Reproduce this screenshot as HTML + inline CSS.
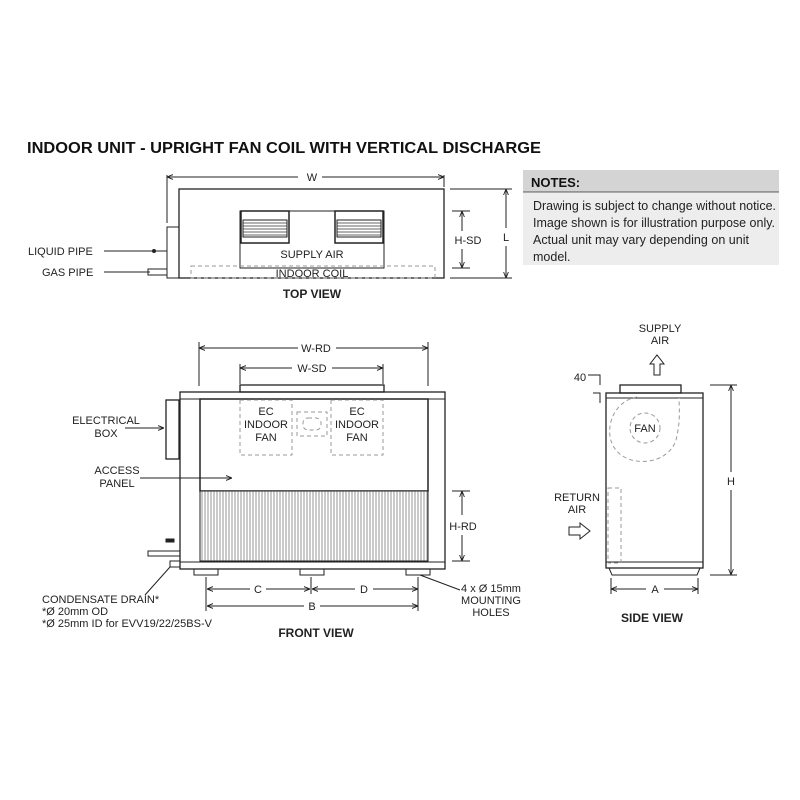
<!DOCTYPE html>
<html><head><meta charset="utf-8"><style>
html,body{margin:0;padding:0;background:#fff}
svg{display:block}
text{font-family:"Liberation Sans",Arial,sans-serif;fill:#222}
</style></head><body>
<svg width="800" height="800" viewBox="0 0 800 800" xmlns="http://www.w3.org/2000/svg">
<defs>
<marker id="a" viewBox="0 0 10 10" refX="10" refY="5" markerWidth="6" markerHeight="6" orient="auto-start-reverse"><path d="M0,1 L10,5 L0,9" fill="none" stroke="#222" stroke-width="1.5"/></marker>
<pattern id="g" width="3" height="10" patternUnits="userSpaceOnUse"><rect width="3" height="10" fill="#fff"/><line x1="1" y1="0" x2="1" y2="10" stroke="#888" stroke-width="0.9"/></pattern>
<pattern id="l" width="10" height="3" patternUnits="userSpaceOnUse"><rect width="10" height="3" fill="#fff"/><line x1="0" y1="1" x2="10" y2="1" stroke="#666" stroke-width="1"/></pattern>
</defs>

<text x="27" y="153" font-size="16" font-weight="bold" textLength="514" lengthAdjust="spacingAndGlyphs" style="fill:#111">INDOOR UNIT - UPRIGHT FAN COIL WITH VERTICAL DISCHARGE</text>

<!-- NOTES -->
<rect x="523" y="170" width="256" height="22" fill="#d4d4d4"/>
<line x1="523" y1="192" x2="779" y2="192" stroke="#555" stroke-width="1"/>
<rect x="523" y="193" width="256" height="72" fill="#ededed"/>
<text x="531" y="187" font-size="13" font-weight="bold" style="fill:#111">NOTES:</text>
<g font-size="12.5" style="fill:#333">
<text x="533" y="210" textLength="243" lengthAdjust="spacingAndGlyphs">Drawing is subject to change without notice.</text>
<text x="533" y="227" textLength="242" lengthAdjust="spacingAndGlyphs">Image shown is for illustration purpose only.</text>
<text x="533" y="244" textLength="216" lengthAdjust="spacingAndGlyphs">Actual unit may vary depending on unit</text>
<text x="533" y="261">model.</text>
</g>

<g stroke="#222" fill="none" stroke-width="1">
<!-- TOP VIEW -->
<rect x="179" y="189" width="265" height="89" stroke-width="1.3"/>
<line x1="167" y1="175" x2="167" y2="223"/>
<line x1="444" y1="175" x2="444" y2="187"/>
<line x1="167" y1="177" x2="298" y2="177" marker-start="url(#a)"/>
<line x1="322" y1="177" x2="444" y2="177" marker-end="url(#a)"/>
<path d="M179,227 H167 V278 H179"/>
<line x1="104" y1="251" x2="167" y2="251"/>
<circle cx="154" cy="251" r="1.5" fill="#222"/>
<line x1="104" y1="272" x2="150" y2="272"/>
<rect x="148" y="269" width="19" height="6"/>
<rect x="240" y="211" width="144" height="57"/>
<rect x="241" y="211" width="48" height="32" stroke-width="1.5"/>
<rect x="335" y="211" width="48" height="32" stroke-width="1.5"/>
<rect x="243" y="220" width="44" height="17" fill="url(#l)"/>
<rect x="337" y="220" width="44" height="17" fill="url(#l)"/>
<rect x="191" y="266" width="244" height="12" stroke="#999" stroke-dasharray="4,3"/>
<line x1="452" y1="211" x2="470" y2="211"/>
<line x1="452" y1="268" x2="470" y2="268"/>
<line x1="462" y1="211" x2="462" y2="231" marker-start="url(#a)"/>
<line x1="462" y1="249" x2="462" y2="268" marker-end="url(#a)"/>
<line x1="450" y1="189" x2="512" y2="189"/>
<line x1="450" y1="278" x2="512" y2="278"/>
<line x1="506" y1="189" x2="506" y2="228" marker-start="url(#a)"/>
<line x1="506" y1="246" x2="506" y2="278" marker-end="url(#a)"/>

<!-- FRONT VIEW -->
<rect x="180" y="392" width="265" height="177" stroke-width="1.3"/>
<line x1="180" y1="399" x2="445" y2="399"/>
<line x1="180" y1="562" x2="445" y2="562"/>
<rect x="200" y="399" width="228" height="92" stroke-width="1.5"/>
<rect x="200" y="491" width="228" height="70" fill="url(#g)"/>
<rect x="240" y="385" width="144" height="7" stroke-width="1.3"/>
<line x1="199" y1="342" x2="199" y2="386"/>
<line x1="428" y1="342" x2="428" y2="386"/>
<line x1="199" y1="348" x2="298" y2="348" marker-start="url(#a)"/>
<line x1="336" y1="348" x2="428" y2="348" marker-end="url(#a)"/>
<line x1="240" y1="364" x2="240" y2="384"/>
<line x1="383" y1="364" x2="383" y2="384"/>
<line x1="240" y1="368" x2="292" y2="368" marker-start="url(#a)"/>
<line x1="332" y1="368" x2="383" y2="368" marker-end="url(#a)"/>
<rect x="166" y="400" width="13" height="59" stroke-width="1.3"/>
<g stroke="#999" stroke-dasharray="4,3">
<rect x="240" y="400" width="52" height="55"/>
<rect x="331" y="400" width="52" height="55"/>
<rect x="297" y="412" width="30" height="24"/>
<rect x="303" y="418" width="18" height="12" rx="5"/>
</g>
<rect x="194" y="569" width="24" height="6"/>
<rect x="300" y="569" width="24" height="6"/>
<rect x="406" y="569" width="24" height="6"/>
<line x1="206" y1="577" x2="206" y2="611"/>
<line x1="311" y1="577" x2="311" y2="594"/>
<line x1="418" y1="577" x2="418" y2="611"/>
<line x1="207" y1="589" x2="250" y2="589" marker-start="url(#a)"/>
<line x1="266" y1="589" x2="310" y2="589" marker-end="url(#a)"/>
<line x1="312" y1="589" x2="355" y2="589" marker-start="url(#a)"/>
<line x1="373" y1="589" x2="418" y2="589" marker-end="url(#a)"/>
<line x1="207" y1="606" x2="304" y2="606" marker-start="url(#a)"/>
<line x1="320" y1="606" x2="418" y2="606" marker-end="url(#a)"/>
<line x1="452" y1="491" x2="470" y2="491"/>
<line x1="452" y1="561" x2="470" y2="561"/>
<line x1="462" y1="491" x2="462" y2="515" marker-start="url(#a)"/>
<line x1="462" y1="535" x2="462" y2="561" marker-end="url(#a)"/>
<rect x="148" y="551" width="32" height="5"/>
<rect x="166" y="539" width="8" height="3" fill="#222"/>
<rect x="170" y="561" width="10" height="6"/>
<path d="M145,595 L170,567"/>
<path d="M420,575 L460,590"/>
<line x1="125" y1="428" x2="164" y2="428" marker-end="url(#a)"/>
<line x1="140" y1="478" x2="232" y2="478" marker-end="url(#a)"/>

<!-- SIDE VIEW -->
<rect x="606" y="393" width="97" height="175" stroke-width="1.3"/>
<line x1="606" y1="398" x2="703" y2="398"/>
<line x1="606" y1="562" x2="703" y2="562"/>
<rect x="620" y="385" width="61" height="8" stroke-width="1.3"/>
<path d="M609,568 H700 L697,575 H612 Z"/>
<g stroke="#999" stroke-dasharray="4,3">
<path d="M637,397 C610,402 603,435 616,450 C630,468 668,465 676,440 C681,420 679,405 679,398"/>
<circle cx="645" cy="428" r="15"/>
<rect x="608" y="488" width="13" height="75"/>
</g>
<path d="M588,375 H600 V385"/>
<path d="M593,393 H600 V403"/>
<line x1="710" y1="385" x2="737" y2="385"/>
<line x1="710" y1="575" x2="737" y2="575"/>
<line x1="731" y1="385" x2="731" y2="472" marker-start="url(#a)"/>
<line x1="731" y1="490" x2="731" y2="575" marker-end="url(#a)"/>
<line x1="611" y1="578" x2="611" y2="594"/>
<line x1="698" y1="578" x2="698" y2="594"/>
<line x1="611" y1="589" x2="646" y2="589" marker-start="url(#a)"/>
<line x1="664" y1="589" x2="698" y2="589" marker-end="url(#a)"/>
<path d="M654,375 V364 H650 L657,355 L664,364 H660 V375 Z"/>
<path d="M569,527 H580 V523 L590,531 L580,539 V535 H569 Z"/>
</g>

<g font-size="11">
<text x="312" y="181" text-anchor="middle">W</text>
<text x="28" y="255">LIQUID PIPE</text>
<text x="42" y="276">GAS PIPE</text>
<text x="312" y="258" text-anchor="middle">SUPPLY AIR</text>
<text x="312" y="277" text-anchor="middle">INDOOR COIL</text>
<text x="468" y="244" text-anchor="middle">H-SD</text>
<text x="506" y="241" text-anchor="middle">L</text>
<text x="312" y="298" text-anchor="middle" font-weight="bold" font-size="12">TOP VIEW</text>

<text x="316" y="352" text-anchor="middle">W-RD</text>
<text x="312" y="372" text-anchor="middle">W-SD</text>
<text x="106" y="424" text-anchor="middle">ELECTRICAL</text>
<text x="106" y="437" text-anchor="middle">BOX</text>
<text x="117" y="474" text-anchor="middle">ACCESS</text>
<text x="117" y="487" text-anchor="middle">PANEL</text>
<text x="266" y="415" text-anchor="middle">EC</text>
<text x="266" y="428" text-anchor="middle">INDOOR</text>
<text x="266" y="441" text-anchor="middle">FAN</text>
<text x="357" y="415" text-anchor="middle">EC</text>
<text x="357" y="428" text-anchor="middle">INDOOR</text>
<text x="357" y="441" text-anchor="middle">FAN</text>
<text x="463" y="530" text-anchor="middle">H-RD</text>
<text x="258" y="593" text-anchor="middle">C</text>
<text x="364" y="593" text-anchor="middle">D</text>
<text x="312" y="610" text-anchor="middle">B</text>
<text x="491" y="592" text-anchor="middle">4 x Ø 15mm</text>
<text x="491" y="604" text-anchor="middle">MOUNTING</text>
<text x="491" y="616" text-anchor="middle">HOLES</text>
<text x="42" y="603">CONDENSATE DRAIN*</text>
<text x="42" y="615">*Ø 20mm OD</text>
<text x="42" y="627">*Ø 25mm ID for EVV19/22/25BS-V</text>
<text x="316" y="637" text-anchor="middle" font-weight="bold" font-size="12">FRONT VIEW</text>

<text x="660" y="332" text-anchor="middle">SUPPLY</text>
<text x="660" y="344" text-anchor="middle">AIR</text>
<text x="580" y="381" text-anchor="middle">40</text>
<text x="645" y="432" text-anchor="middle">FAN</text>
<text x="577" y="501" text-anchor="middle">RETURN</text>
<text x="577" y="513" text-anchor="middle">AIR</text>
<text x="731" y="485" text-anchor="middle">H</text>
<text x="655" y="593" text-anchor="middle">A</text>
<text x="652" y="622" text-anchor="middle" font-weight="bold" font-size="12">SIDE VIEW</text>
</g>
</svg>
</body></html>
